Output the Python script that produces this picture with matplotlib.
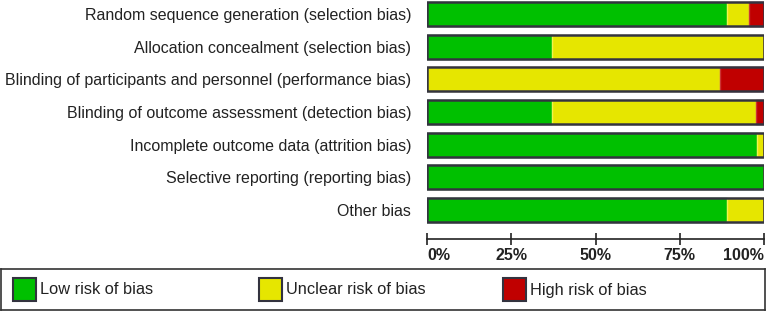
import matplotlib
matplotlib.use("Agg")
import matplotlib.pyplot as plt
from matplotlib.patches import Rectangle
import numpy as np

categories = [
    "Random sequence generation (selection bias)",
    "Allocation concealment (selection bias)",
    "Blinding of participants and personnel (performance bias)",
    "Blinding of outcome assessment (detection bias)",
    "Incomplete outcome data (attrition bias)",
    "Selective reporting (reporting bias)",
    "Other bias",
]
low_risk = [89.0, 37.0, 0.0, 37.0, 97.8, 100.0, 89.0]
unclear_risk = [6.5, 63.0, 87.0, 60.5, 2.2, 0.0, 11.0]
high_risk = [4.5, 0.0, 13.0, 2.5, 0.0, 0.0, 0.0]
series_names = ["Low risk of bias", "Unclear risk of bias", "High risk of bias"]
tick_values = [0, 25, 50, 75, 100]
tick_labels = ["0%", "25%", "50%", "75%", "100%"]

colors = ["#00C000", "#E6E600", "#C00000"]
inner_edges = ["#33CC33", "#F2F24D", "#CC3333"]
outline = "#33333F"

W, H = 767, 312
fig = plt.figure(figsize=(W / 100, H / 100), dpi=100)
fig.patch.set_facecolor("white")

font = ["Liberation Sans", "DejaVu Sans"]

# main axes: x from 427px to 764px, y from 0 to 239px
ax = fig.add_axes([427 / W, 1 - 239 / H, 337 / W, 239 / H])
ax.set_xlim(0, 100)
ax.set_ylim(6.888, -0.43)

ypos = np.arange(len(categories))
bar_h = 0.74
series = [low_risk, unclear_risk, high_risk]
left = np.zeros(len(categories))
for vals, c, ec in zip(series, colors, inner_edges):
    vals = np.array(vals)
    ax.barh(ypos, vals, left=left, height=bar_h, color=c, edgecolor=ec,
            linewidth=1.0, zorder=2)
    left = left + vals
# outline of each whole bar
ax.barh(ypos, left, height=bar_h, facecolor="none", edgecolor=outline,
        linewidth=1.8, zorder=3)

ax.set_yticks(ypos)
ax.set_yticklabels(categories, fontsize=11.5, family=font, color="#222222")
ax.tick_params(axis="y", length=0, pad=11.5)

ax.set_xticks(tick_values)
ax.set_xticklabels(tick_labels, fontsize=11.5, family=font, color="#222222",
                   fontweight="bold")
ax.tick_params(axis="x", direction="inout", length=9, width=1.2,
               color="#222222", pad=2)
labels = ax.get_xticklabels()
labels[0].set_horizontalalignment("left")
labels[-1].set_horizontalalignment("right")

for s in ["top", "left", "right"]:
    ax.spines[s].set_visible(False)
ax.spines["bottom"].set_linewidth(1.2)
ax.spines["bottom"].set_color("#222222")
ax.set_facecolor("none")

# legend box
lax = fig.add_axes([1 / W, 1 - 310 / H, 764 / W, 41 / H])
lax.set_xlim(0, 764)
lax.set_ylim(41, 0)
lax.set_xticks([])
lax.set_yticks([])
for s in lax.spines.values():
    s.set_linewidth(1.2)
    s.set_color("#333333")
patch_x = [12, 258, 502]
for px, c, name in zip(patch_x, colors, series_names):
    lax.add_patch(Rectangle((px, 9), 23, 23, facecolor=c, edgecolor=outline,
                            linewidth=1.5))
    lax.text(px + 27, 21, name, fontsize=11.8, family=font, color="#222222",
             va="center", ha="left")

fig.savefig("out.png", dpi=100)
